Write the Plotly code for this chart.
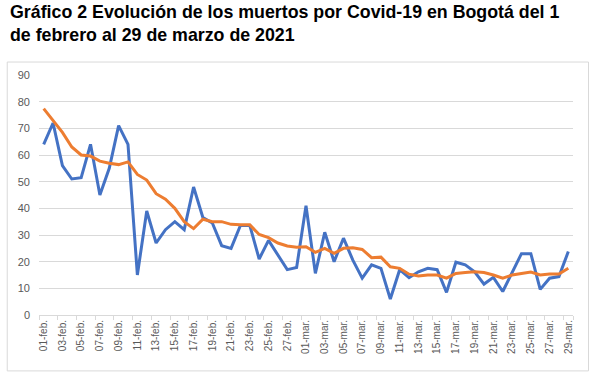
import plotly.graph_objects as go

feb = [f"{d:02d}-feb." for d in range(1, 29)]
mar = [f"{d:02d}-mar." for d in range(1, 30)]
dates = feb + mar

muertes = [64, 72, 56, 51, 51.5, 64, 45, 55, 71, 64,
           15, 39, 27, 32, 35, 32, 48, 36.5, 34.5, 26,
           25, 33.6, 33.6, 21, 28, 22.4, 17, 17.8,
           41, 15.6, 31, 20, 28.8, 20.6, 13.8, 18.8, 17.5, 6,
           17, 14, 16.2, 17.5, 17, 8.5, 19.8, 18.8, 16.2, 11.6,
           14.1, 8.8, 15.6, 23, 23, 9.6, 13.8, 14.4, 23.8]

promedio = [77.4, 73, 68.5, 63, 60, 59.6, 57.7, 56.9, 56.4, 57.4,
            52.7, 50.6, 45.5, 43.4, 40, 35, 32.4, 35.9, 35, 35,
            34, 33.8, 33.8, 30.2, 29, 27, 25.9, 25.4,
            25.6, 23.5, 25, 23.1, 25, 25.2, 24.6, 21.5, 21.7, 18.1,
            17.5, 15.3, 14.6, 15, 15, 13.8, 15.6, 15.9, 16.2, 15.9,
            15, 13.8, 15, 15.6, 16.1, 15, 15.4, 15.4, 17.5]

title_text = ("Gráfico 2 Evolución de los muertos por Covid-19 en Bogotá del 1<br>"
              "de febrero al 29 de marzo de 2021")

fig = go.Figure()
fig.add_trace(go.Scatter(x=dates, y=muertes, mode="lines",
                         line=dict(color="#4472C4", width=3), name="Muertes"))
fig.add_trace(go.Scatter(x=dates, y=promedio, mode="lines",
                         line=dict(color="#ED7D31", width=3), name="Promedio"))

fig.update_layout(
    width=612, height=378,
    margin=dict(l=39, r=39, t=75, b=63),
    paper_bgcolor="white", plot_bgcolor="white",
    showlegend=False,
    font=dict(family="Liberation Sans, Arial, sans-serif", color="#595959"),
    xaxis=dict(
        type="category", tickmode="array",
        tickvals=dates[::2], ticktext=dates[::2],
        tickangle=-90, tickfont=dict(size=10, color="#595959"),
        showgrid=False, showline=True, linecolor="#D9D9D9", linewidth=1,
        ticks="outside", ticklen=4, tickcolor="#D9D9D9", tickson="boundaries",
        range=[-0.5, 56.5], automargin=False,
    ),
    yaxis=dict(
        range=[0, 90], dtick=10, tickfont=dict(size=11, color="#595959"),
        showgrid=True, gridcolor="#D9D9D9", gridwidth=1,
        zeroline=False, showline=False, ticks="", ticklabelstandoff=8,
        automargin=False,
    ),
    annotations=[dict(
        text=title_text, xref="paper", yref="paper",
        x=-0.058, y=1.115, xanchor="left", yanchor="bottom",
        showarrow=False, align="left",
        font=dict(family="Liberation Sans, Arial, sans-serif", size=17.8,
                  color="black", weight="bold"),
    )],
    shapes=[dict(
        type="rect", xref="paper", yref="paper",
        x0=-0.0595, x1=1.029, y0=-0.233, y1=1.054,
        line=dict(color="#D9D9D9", width=1), fillcolor="rgba(0,0,0,0)", layer="below",
    )],
)

fig.write_html("out.html", config={"displayModeBar": False},
               post_script="document.body.style.margin='0';document.body.style.padding='0';")
